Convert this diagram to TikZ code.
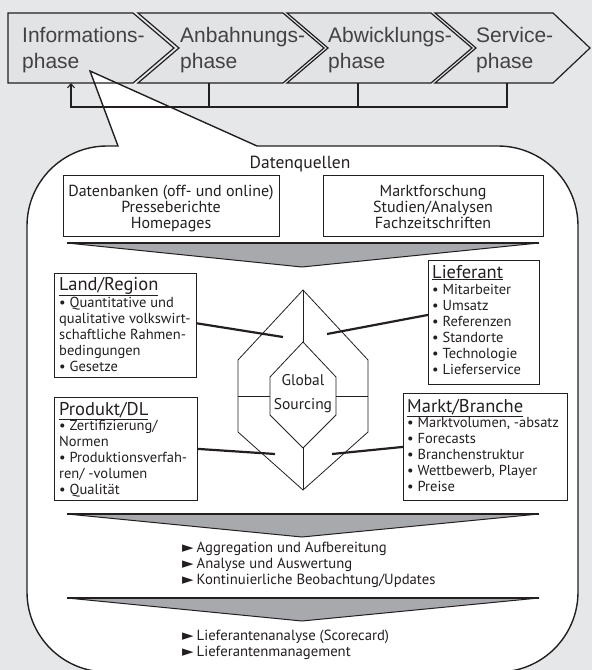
\documentclass[tikz,border=0pt]{standalone}
\usepackage{fontspec}
\setmainfont{PT Sans}
\newfontfamily\headfont{Liberation Sans}
\newfontfamily\symfont{DejaVu Sans}
\usetikzlibrary{arrows.meta,calc,positioning}
\definecolor{pagebg}{HTML}{E6E7E9}
\definecolor{chevfill}{HTML}{E2E3E5}
\definecolor{funnel}{HTML}{A7A9AC}
\definecolor{ink}{HTML}{231F20}
\newcommand{\tri}{{\symfont\fontsize{15}{15}\selectfont\char"25BA}\hspace{3pt}}
% multi-line nodes below sit on the baseline of their LAST line
\tikzset{
  % ---- process chevrons ----------------------------------------
  chev/.style     = {draw=ink, line width=1.2pt},
  phasetxt/.style = {font=\headfont\fontsize{21}{26}\selectfont, text=ink!85,
                     align=left, inner sep=0pt, anchor=base west},
  fback/.style    = {draw=ink, line width=1.1pt},
  % ---- callout bubble --------------------------------------------
  bubble/.style   = {draw=ink, line width=1.4pt, fill=white},
  srcbox/.style   = {draw=ink, line width=.8pt, inner sep=0pt, anchor=north west},
  srctxt/.style   = {font=\fontsize{16}{16}\selectfont, text=ink, align=center,
                     inner sep=0pt, anchor=base},
  infobox/.style  = {draw=ink, line width=.8pt, inner sep=0pt, anchor=north west},
  infohd/.style   = {font=\fontsize{18.5}{18}\selectfont, text=ink, inner sep=0pt,
                     anchor=base west},
  infotxt/.style  = {font=\fontsize{14.5}{16}\selectfont, text=ink, align=left,
                     inner sep=0pt, anchor=base west},
  hexa/.style     = {draw=ink, line width=.8pt},
  link/.style     = {draw=ink, line width=2.2pt},
  steptxt/.style  = {font=\fontsize{14.7}{16}\selectfont, text=ink, align=left,
                     inner sep=0pt, anchor=base west},
}
\begin{document}
\begin{tikzpicture}[x=1pt, y=-1pt]
\fill[pagebg] (0,0) rectangle (592,670);
\useasboundingbox (0,0) rectangle (592,670);

% chevrons (fill first, outline after the bubble)
\fill[chevfill] (8,13) -- (133,13) -- (174,48) -- (133,83) -- (8,83) -- cycle;
\foreach \xl/\xr/\xt/\xn in {138/283/324/179, 287/431/472/328, 435/553/590/476}
  \fill[chevfill] (\xl,13) -- (\xr,13) -- (\xt,48) -- (\xr,83) -- (\xl,83) -- (\xn,48) -- cycle;

% callout bubble
\coordinate (callout) at (90,71);
\draw[bubble] (callout) -- (257,146) -- (498,146) arc[start angle=-90, end angle=0, radius=80]
  -- (578,592) arc[start angle=0, end angle=90, radius=80]
  -- (107,672) arc[start angle=90, end angle=180, radius=80]
  -- (27,226) arc[start angle=180, end angle=270, radius=80]
  -- (118,146) -- cycle;

\draw[chev] (8,13) -- (133,13) -- (174,48) -- (133,83) -- (8,83) -- cycle;
\foreach \xl/\xr/\xt/\xn in {138/283/324/179, 287/431/472/328, 435/553/590/476}
  \draw[chev] (\xl,13) -- (\xr,13) -- (\xt,48) -- (\xr,83) -- (\xl,83) -- (\xn,48) -- cycle;

\node[phasetxt] (ph1) at (22,68) {Informations-\\phase};
\node[phasetxt] (ph2) at (180,68) {Anbahnungs-\\phase};
\node[phasetxt] (ph3) at (328,68) {Abwicklungs-\\phase};
\node[phasetxt] (ph4) at (476,68) {Service-\\phase};

% feedback loop
\coordinate (fbin) at (71,83);
\coordinate (fb2) at (209,83);
\coordinate (fb3) at (358,83);
\coordinate (fb4) at (507,83);
\coordinate (fbrow) at (0,107);
\draw[fback, -{Straight Barb[length=4pt, width=7pt]}] (fb4) |- (fbrow -| fbin) -- (fbin);
\draw[fback] (fb2) -- (fb2 |- fbrow);
\draw[fback] (fb3) -- (fb3 |- fbrow);

% data sources
\node[srctxt, font=\fontsize{17.5}{18}\selectfont] (dq) at (300,168) {Datenquellen};
\node[srcbox, minimum width=216, minimum height=61] (src1) at (63,175) {};
\node[srctxt] at (171,228) {Datenbanken (off- und online)\\Presseberichte\\Homepages};
\node[srcbox, minimum width=220, minimum height=61] (src2) at (323,175) {};
\node[srctxt] at (433,228) {Marktforschung\\Studien/Analysen\\Fachzeitschriften};

% funnels
\foreach \ty/\tip in {243/267, 514/537, 598/621} {
  \fill[funnel] (67,\ty) -- (539,\ty) -- (302,\tip) -- cycle;
  \draw[ink, line width=1pt] (67,\ty) -- (302,\tip) -- (539,\ty);
  \draw[ink, line width=2.6pt] (67,\ty) -- (539,\ty);
}

% criteria boxes
\node[infobox, minimum width=142, minimum height=104] (land) at (54,273) {};
\node[infohd] at (59,290) {\underline{Land/Region}};
\node[infotxt] at (59,371) {\textbullet\ Quantitative und\\qualitative volkswirt-\\schaftliche Rahmen-\\bedingungen\\\textbullet\ Gesetze};

\node[infobox, minimum width=143, minimum height=103] (prod) at (54,397) {};
\node[infohd] at (59,415) {\underline{Produkt/DL}};
\node[infotxt] at (59,494) {\textbullet\ Zertifizierung/\\Normen\\\textbullet\ Produktionsverfah-\\ren/ -volumen\\\textbullet\ Qualität};

\node[infobox, minimum width=111, minimum height=124] (lief) at (428,260) {};
\node[infohd] at (432,278) {\underline{Lieferant}};
\node[infotxt] at (432,374) {\textbullet\ Mitarbeiter\\\textbullet\ Umsatz\\\textbullet\ Referenzen\\\textbullet\ Standorte\\\textbullet\ Technologie\\\textbullet\ Lieferservice};

\node[infobox, minimum width=164, minimum height=107] (markt) at (403,393) {};
\node[infohd] at (407,412) {\underline{Markt/Branche}};
\node[infotxt] at (407,491) {\textbullet\ Marktvolumen, -absatz\\\textbullet\ Forecasts\\\textbullet\ Branchenstruktur\\\textbullet\ Wettbewerb, Player\\\textbullet\ Preise};

% global sourcing hexagons
\draw[hexa] (303,290) -- (368,360) -- (368,432) -- (303,490) -- (238,432) -- (238,360) -- cycle;
\draw[hexa] (303,342) -- (336,377) -- (336,415) -- (303,448) -- (270,415) -- (270,377) -- cycle;
\draw[hexa] (303,290) -- (303,342);
\draw[hexa] (303,448) -- (303,490);
\draw[hexa] (238,396) -- (270,396);
\draw[hexa] (336,396) -- (368,396);
\node[font=\fontsize{15.5}{24}\selectfont, text=ink, align=center, inner sep=0pt, anchor=base] (gs) at (303,409) {Global\\Sourcing};

\coordinate (hLand) at (283,337);
\coordinate (hLief) at (327,334);
\coordinate (hProd) at (275,454);
\coordinate (hMarkt) at (332,454);
\draw[link] ($(land.north east)!.48!(land.south east)$) -- (hLand);
\draw[link] ($(lief.north west)!.44!(lief.south west)$) -- (hLief);
\draw[link] (prod.east) -- (hProd);
\draw[link] (markt.west) -- (hMarkt);

% results
\node[steptxt] (res1) at (182,584) {\tri Aggregation und Aufbereitung\\\tri Analyse und Auswertung\\\tri Kontinuierliche Beobachtung/Updates};
\node[steptxt] (res2) at (182,656) {\tri Lieferantenanalyse (Scorecard)\\\tri Lieferantenmanagement};
\end{tikzpicture}
\end{document}
